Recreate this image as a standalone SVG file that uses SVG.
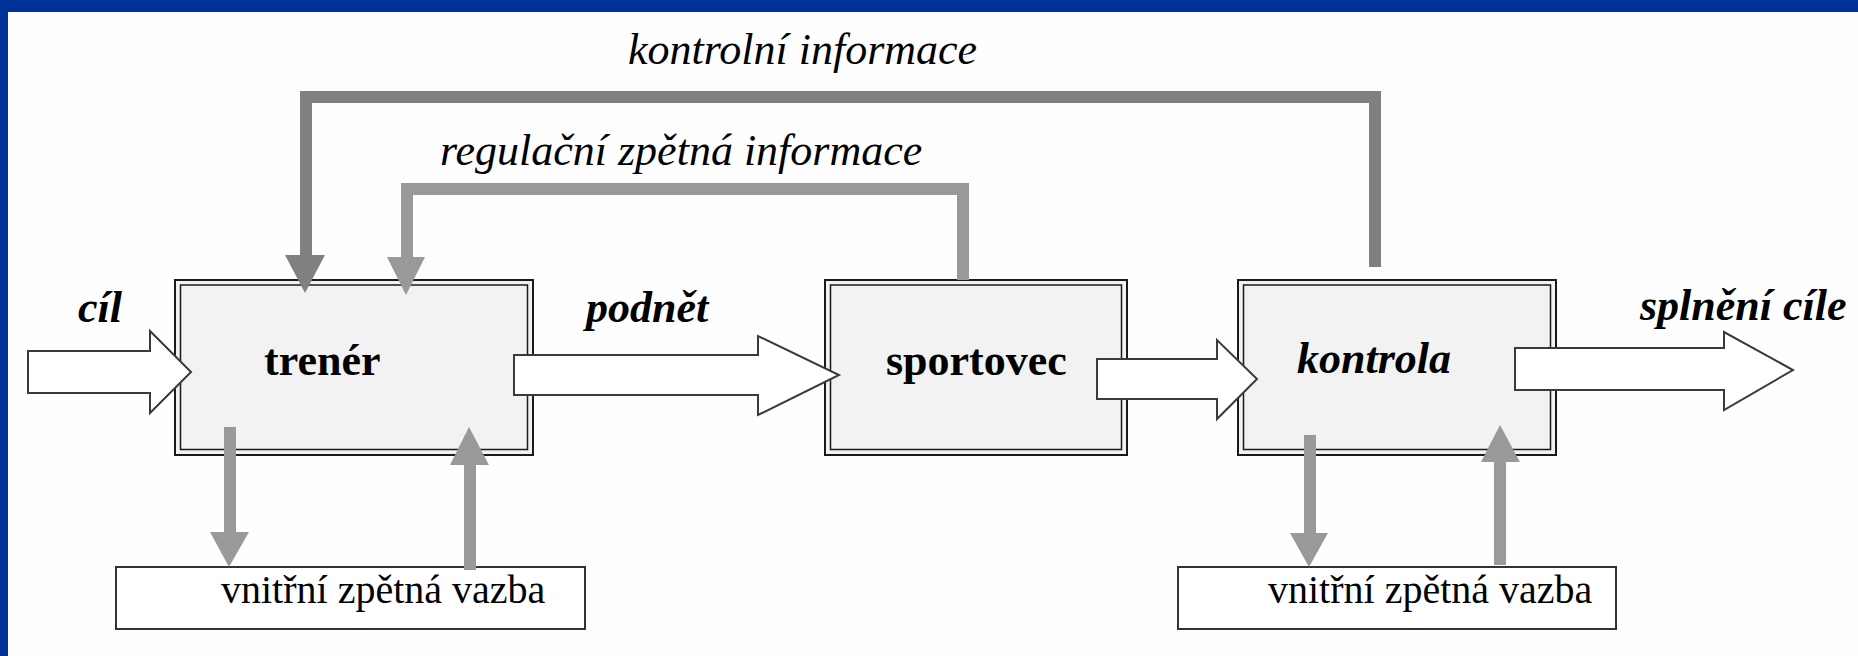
<svg xmlns="http://www.w3.org/2000/svg" width="1858" height="656" viewBox="0 0 1858 656">
<style>
.box-o{fill:#f2f2f2;stroke:#1a1a1a;stroke-width:2}
.box-i{fill:none;stroke:#1a1a1a;stroke-width:1.5}
.sub{fill:#ffffff;stroke:#333333;stroke-width:2}
.blk{fill:#ffffff;stroke:#3a3a3a;stroke-width:2;stroke-linejoin:miter}
.t{font-family:"Liberation Serif","Times New Roman",serif;font-size:44px;fill:#000}
.b{font-weight:bold}
.i{font-style:italic}
.s{font-family:"Liberation Serif","Times New Roman",serif;font-size:40px;fill:#000}
.g1{fill:none;stroke:#808080;stroke-width:12;stroke-linejoin:miter}
.g2{fill:none;stroke:#999999;stroke-width:12;stroke-linejoin:miter}
.h1{fill:#808080}
.h2{fill:#999999}
</style>
<rect x="0" y="0" width="1858" height="656" fill="#fefefe"/>
<rect x="0" y="0" width="1858" height="12" fill="#003399"/>
<rect x="0" y="0" width="8" height="656" fill="#003399"/>

<g id="trener">
<rect class="box-o" x="175" y="280" width="358" height="175"/>
<rect class="box-i" x="180.5" y="285" width="347" height="164.5"/>
<text class="t b" x="264" y="375">trenér</text>
</g>
<g id="sportovec">
<rect class="box-o" x="825" y="280" width="302" height="175"/>
<rect class="box-i" x="830.5" y="285" width="291" height="164.5"/>
<text class="t b" x="886" y="375">sportovec</text>
</g>
<g id="kontrola">
<rect class="box-o" x="1238" y="280" width="318" height="175"/>
<rect class="box-i" x="1243.5" y="285" width="307" height="164.5"/>
<text class="t b i" x="1297" y="373">kontrola</text>
</g>
<g id="vazba1">
<rect class="sub" x="116" y="567" width="469" height="62"/>
<text class="s" x="221" y="603">vnitřní zpětná vazba</text>
</g>
<g id="vazba2">
<rect class="sub" x="1178" y="567" width="438" height="62"/>
<text class="s" x="1268" y="603">vnitřní zpětná vazba</text>
</g>

<g id="connectors">
<polygon class="blk" points="28,351 150,351 150,331 191,372 150,413 150,393 28,393"/>
<polygon class="blk" points="514,355 758,355 758,336 839,375 758,415 758,395 514,395"/>
<polygon class="blk" points="1097,359 1217,359 1217,340 1257,379 1217,419 1217,399 1097,399"/>
<polygon class="blk" points="1515,348 1724,348 1724,332 1793,370 1724,410 1724,390 1515,390"/>

<path class="g1" d="M1375,267 V97 H306 V256"/>
<polygon class="h1" points="285,255 325,255 305,293"/>
<path class="g2" d="M963,280 V189 H407 V258"/>
<polygon class="h2" points="387,257 425,257 406,295"/>

<path class="g2" d="M230,427 V533"/>
<polygon class="h2" points="210,532 249,532 229,567"/>
<path class="g2" d="M470,570 V464"/>
<polygon class="h2" points="450,465 489,465 469,427"/>
<path class="g2" d="M1310,435 V534"/>
<polygon class="h2" points="1290,533 1328,533 1309,567"/>
<path class="g2" d="M1500,565 V461"/>
<polygon class="h2" points="1481,462 1520,462 1500,425"/>

<text class="t i" x="628" y="64">kontrolní informace</text>
<text class="t i" x="440" y="165">regulační zpětná informace</text>
<text class="t b i" x="78" y="322">cíl</text>
<text class="t b i" x="586" y="322">podnět</text>
<text class="t b i" x="1640" y="320">splnění cíle</text>
</g>
</svg>
